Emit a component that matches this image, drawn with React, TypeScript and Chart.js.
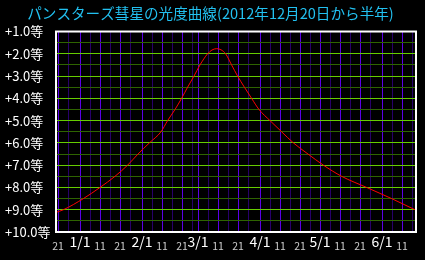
import React, { useEffect, useRef } from 'react';
import { Chart, registerables } from 'chart.js';

Chart.register(...registerables);

// Days counted from 2012-12-20
const startYear = 2012;
const startMonth = 11; // December (0-based)
const startDay = 20;
const rangeDays = 180;

const curveDays = [0, 3.7, 13.7, 22, 29.5, 35.8, 41, 46.7, 52.5, 55.8, 59.5, 62.8, 65.8, 69, 72, 75.8, 78, 80.3, 82.5, 84.8, 87.8, 90.8, 94.2, 97.8, 101.5, 107, 112.8, 118.7, 126, 133.7, 142.8, 155.3, 167.8, 179.5];
const curveMags = [9.12, 9.0, 8.5, 8.0, 7.5, 7.0, 6.5, 6.0, 5.5, 5.0, 4.5, 4.0, 3.5, 3.0, 2.5, 2.0, 1.83, 1.77, 1.82, 2.0, 2.5, 3.0, 3.5, 4.0, 4.5, 5.0, 5.5, 6.0, 6.5, 7.0, 7.5, 8.0, 8.5, 9.0];

const gridDayOfMonth = [1, 6, 11, 16, 21, 26];
const labeledDayOfMonth = [1, 11, 21];
const magMin = 1;
const magMax = 10;
const magStep = 0.5;

const titleText = 'パンスターズ彗星の光度曲線(2012年12月20日から半年)';
const magSuffix = '等';

const FONT = '"Noto Sans CJK JP", "Noto Sans", sans-serif';

function dateOf(d: number) {
  return new Date(startYear, startMonth, startDay + d);
}

function buildXTicks() {
  const ticks: number[] = [];
  for (let d = 0; d <= rangeDays; d++) {
    const dom = dateOf(d).getDate();
    if (gridDayOfMonth.includes(dom)) ticks.push(d);
  }
  return ticks;
}

function xLabel(v: number) {
  const dt = dateOf(v);
  const dom = dt.getDate();
  if (!labeledDayOfMonth.includes(dom)) return '';
  if (dom === 1) return `${dt.getMonth() + 1}/1`;
  return String(dom);
}

function tickVal(c: any): number | null {
  return c && c.tick && typeof c.tick.value === 'number' ? c.tick.value : null;
}

export default function App() {
  const ref = useRef<HTMLCanvasElement | null>(null);
  useEffect(() => {
    document.body.style.margin = '0';
    document.body.style.background = '#000';
    const xTicks = buildXTicks();
    const framePlugin = {
      id: 'frame',
      afterDraw(chart: any) {
        const { ctx, chartArea } = chart;
        ctx.save();
        ctx.strokeStyle = '#ffffff';
        ctx.lineWidth = 2;
        ctx.strokeRect(chartArea.left, chartArea.top, chartArea.right - chartArea.left, chartArea.bottom - chartArea.top);
        ctx.restore();
      },
    };
    const bgPlugin = {
      id: 'bg',
      beforeDraw(chart: any) {
        const { ctx } = chart;
        ctx.save();
        ctx.fillStyle = '#000';
        ctx.fillRect(0, 0, chart.width, chart.height);
        ctx.restore();
      },
    };
    const isMajorX = (c: any) => {
      const v = tickVal(c);
      return v !== null && labeledDayOfMonth.includes(dateOf(v).getDate());
    };
    const isMonthX = (c: any) => {
      const v = tickVal(c);
      return v !== null && dateOf(v).getDate() === 1;
    };
    const chart = new Chart(ref.current!, {
      type: 'line',
      data: {
        datasets: [
          {
            data: curveDays.map((d, i) => ({ x: d, y: curveMags[i] })),
            borderColor: '#ff0000',
            borderWidth: 1,
            pointRadius: 0,
            cubicInterpolationMode: 'monotone',
          },
        ],
      },
      options: {
        animation: false,
        responsive: false,
        layout: { padding: { left: 5, right: 9, top: 0, bottom: 0 } },
        plugins: {
          legend: { display: false },
          tooltip: { enabled: false },
          title: {
            display: true,
            text: titleText,
            color: '#22c0f0',
            font: { family: FONT, size: 14.6, weight: 'normal' },
            padding: { top: 5, bottom: 9 },
          },
        },
        scales: {
          x: {
            type: 'linear',
            min: 0,
            max: rangeDays,
            afterBuildTicks: (scale: any) => {
              scale.ticks = xTicks.map((v) => ({ value: v }));
            },
            afterFit: (scale: any) => {
              scale.height = 28;
            },
            border: { display: false },
            grid: {
              drawTicks: false,
              color: (c: any) => (isMajorX(c) ? '#5c00e8' : '#28006a'),
              lineWidth: 1,
            },
            ticks: {
              autoSkip: false,
              maxRotation: 0,
              minRotation: 0,
              padding: 10,
              crossAlign: 'far',
              callback: (v: any) => xLabel(Number(v)),
              color: (c: any) => (isMonthX(c) ? '#ffffff' : '#cccccc'),
              font: (c: any) => (isMonthX(c) ? { family: FONT, size: 14 } : { family: FONT, size: 10.5 }),
            },
          },
          y: {
            type: 'linear',
            reverse: true,
            min: magMin,
            max: magMax,
            afterFit: (scale: any) => {
              scale.width = 51;
            },
            border: { display: false },
            grid: {
              drawTicks: false,
              color: (c: any) => {
                const v = tickVal(c);
                return v !== null && Number.isInteger(v) ? '#66cc00' : '#2e6400';
              },
              lineWidth: 1,
            },
            ticks: {
              stepSize: magStep,
              autoSkip: false,
              crossAlign: 'far',
              color: '#ffffff',
              font: { family: FONT, size: 13 },
              callback: (v: any) => (Number.isInteger(Number(v)) ? `+${Number(v).toFixed(1)}${magSuffix}` : ''),
            },
          },
        },
      } as any,
      plugins: [bgPlugin, framePlugin],
    });
    return () => chart.destroy();
  }, []);
  return <canvas ref={ref} width={425} height={260} style={{ display: 'block' }} />;
}
